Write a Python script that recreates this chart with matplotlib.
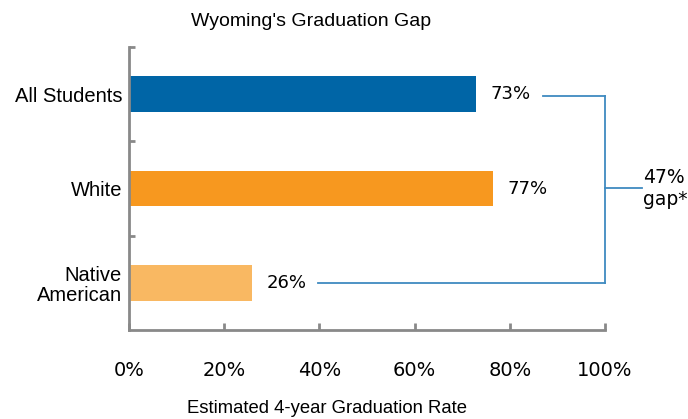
import matplotlib
matplotlib.use("Agg")
import matplotlib.pyplot as plt
from matplotlib import font_manager

categories = ["All Students", "White", "Native\nAmerican"]
values = [72.9, 76.4, 25.8]
labels = ["73%", "77%", "26%"]
colors = ["#0065A6", "#F7981F", "#F9B862"]
xticks = [0, 20, 40, 60, 80, 100]
xticklabels = ["0%", "20%", "40%", "60%", "80%", "100%"]
gap_text = "47%\ngap*"

names = {f.name for f in font_manager.fontManager.ttflist}
narrow = "Liberation Sans Narrow" if "Liberation Sans Narrow" in names else "Liberation Sans"

fig = plt.figure(figsize=(6.88, 4.19), dpi=100)
ax = fig.add_axes([129/688, 1-330/419, 476/688, 283/419])

ypos = list(range(len(categories)))
ax.barh(ypos, values, height=0.38, color=colors, zorder=2)
ax.set_ylim(2.5, -0.5)
ax.set_xlim(0, 100)

spine_c = "#898989"
for s in ["top", "right"]:
    ax.spines[s].set_visible(False)
for s in ["left", "bottom"]:
    ax.spines[s].set_color(spine_c)
    ax.spines[s].set_linewidth(2.0)

ax.set_yticks(ypos)
ax.set_yticklabels(categories, family=narrow, fontsize=14.5, linespacing=1.1)
ax.tick_params(axis="y", which="major", length=0, pad=5)
ax.set_yticks([-0.5, 0.5, 1.5], minor=True)
ax.tick_params(axis="y", which="minor", direction="in", length=4, width=2, color=spine_c)

ax.set_xticks(xticks)
ax.set_xticklabels(xticklabels, family="DejaVu Sans", fontsize=14)
ax.tick_params(axis="x", direction="in", length=5, width=2, color=spine_c, pad=22)

for y, v, lab in zip(ypos, values, labels):
    ax.text(v + 3.1, y, lab, va="center", ha="left", fontsize=13, family="DejaVu Sans")

# bracket
bc = "#3F8AC0"
ax.plot([87, 100], [0.02, 0.02], color=bc, lw=1.3, clip_on=False)
ax.plot([100, 100], [0.02, 2.0], color=bc, lw=1.3, clip_on=False)
ax.plot([39.7, 100], [2.0, 2.0], color=bc, lw=1.3, clip_on=False)
ax.plot([100, 107.8], [1.0, 1.0], color=bc, lw=1.3, clip_on=False)
ax.text(108.0, 1.0, gap_text, va="center", ha="left", fontsize=13.5, family="DejaVu Sans",
        linespacing=1.25)

fig.text(311/688, 1-22/419, "Wyoming's Graduation Gap", ha="center", va="center",
         fontsize=14, family="Liberation Sans")
fig.text(327/688, 1-408/419, "Estimated 4-year Graduation Rate", ha="center", va="center",
         fontsize=13.3, family=narrow)

fig.savefig("out.png", dpi=100)
